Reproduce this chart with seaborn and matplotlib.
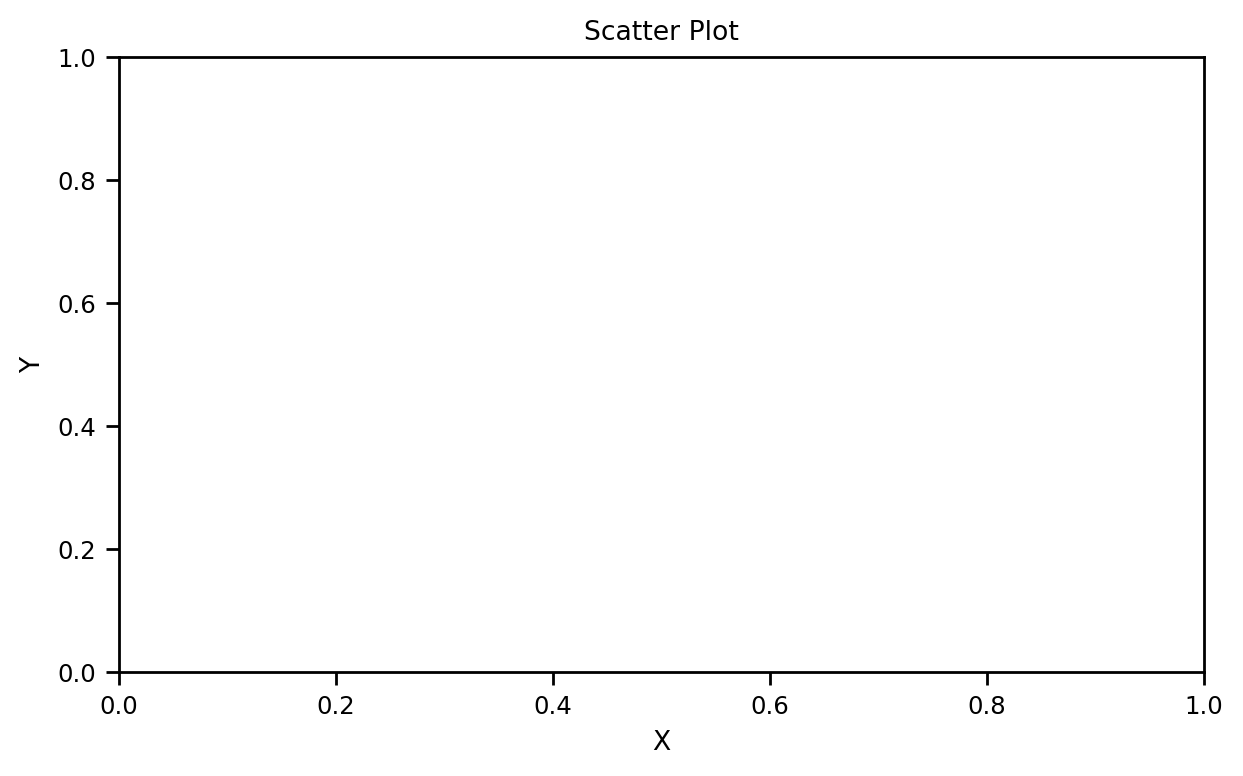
import pandas as pd
import seaborn as sns
import matplotlib
matplotlib.use("Agg")
import matplotlib.pyplot as plt

# The reference scatter has no visible points: empty series
x_values = []
y_values = []

df = pd.DataFrame({"X": pd.Series(x_values, dtype=float),
                   "Y": pd.Series(y_values, dtype=float)})

sns.set_context("paper")

fig, ax = plt.subplots(figsize=(6.215, 3.88), dpi=200)
fig.subplots_adjust(left=0.0957, right=0.9686, top=0.9265, bottom=0.134)

sns.scatterplot(data=df, x="X", y="Y", ax=ax)
ax.set_xlim(0, 1)
ax.set_ylim(0, 1)
ax.set_title("Scatter Plot")
ax.set_xlabel("X")
ax.set_ylabel("Y")

plt.savefig("out.png", dpi=200)
